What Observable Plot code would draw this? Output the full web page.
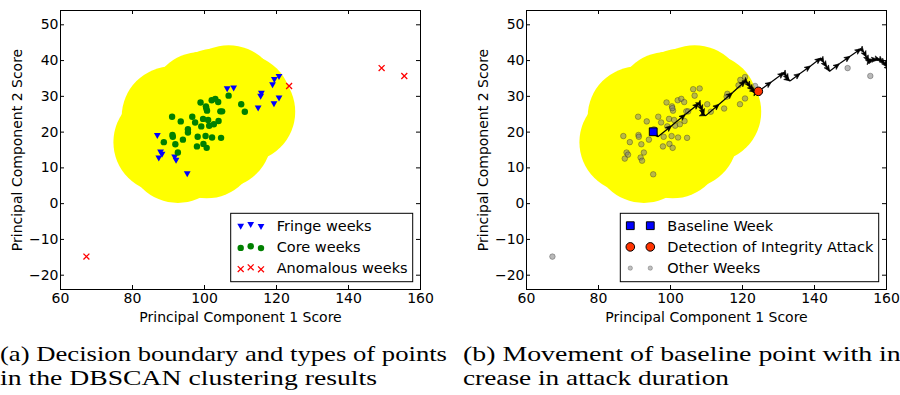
<!DOCTYPE html>
<html><head><meta charset="utf-8">
<script src="https://cdn.jsdelivr.net/npm/d3@7"></script>
<script src="https://cdn.jsdelivr.net/npm/@observablehq/plot@0.6"></script>
<style>
html,body{margin:0;padding:0;background:#fff;overflow:hidden;width:900px;height:395px}
#wrap{position:relative;width:900px;height:395px;overflow:hidden;background:#fff}
#left,#right{position:absolute;top:0}
#left{left:0} #right{left:450px}
#cap{position:absolute;left:0;top:330px}
</style></head><body>
<div id="wrap"><div id="left"></div><div id="right"></div><svg id="cap" width="900" height="65"></svg></div>
<script>
// ---- data ----
const xTicks = [60, 80, 100, 120, 140, 160];
const yTicks = [-20, -10, 0, 10, 20, 30, 40, 50];
const xLabel = "Principal Component 1 Score";
const yLabel = "Principal Component 2 Score";

const coreX = [91.0, 93.4, 96.6, 97.4, 98.9, 100.4, 100.7, 100.5, 102.0, 103.0, 103.8, 106.7, 110.2, 111.2, 104.4, 104.9, 99.6, 101.0, 99.1, 101.3, 102.6, 103.9, 95.4, 95.4, 91.1, 91.2, 88.7, 91.9, 94.0, 98.1, 100.3, 102.1, 104.6, 97.9, 99.7, 100.6, 92.6];
const coreY = [24.3, 23.0, 24.3, 22.7, 28.3, 27.2, 26.0, 26.7, 28.9, 29.3, 28.4, 30.2, 27.8, 25.7, 25.8, 25.8, 23.7, 23.4, 21.6, 21.8, 22.2, 23.1, 20.8, 19.9, 19.2, 18.7, 17.2, 16.6, 17.9, 18.7, 18.9, 18.5, 18.4, 16.0, 16.7, 15.6, 14.3];

const fringeX = [86.9, 87.8, 88.2, 87.3, 91.7, 92.1, 95.2, 106.3, 108.1, 114.9, 115.6, 115.8, 118.9, 119.4, 120.7, 119.3, 120.7];
const fringeY = [18.9, 14.3, 13.7, 12.6, 12.9, 12.0, 8.2, 32.0, 32.2, 26.6, 29.9, 30.7, 33.1, 34.6, 35.4, 27.8, 29.4];

const anomX = [123.5, 149.2, 155.5, 67.2];
const anomY = [32.9, 37.9, 35.7, -14.8];

const baselineX = [95.2];
const baselineY = [20.1];
const detectX = [124.4];
const detectY = [31.4];

const pathX = [95.2, 96.5, 100.3, 104.1, 107.9, 108.4, 108.9, 109.3, 109.8, 113.5, 117.2, 120.8, 121.5, 122.2, 123.0, 123.7, 124.4, 128.0, 131.5, 132.2, 132.8, 133.2, 136.0, 138.9, 141.8, 142.6, 143.4, 144.2, 146.9, 149.9, 152.9, 153.7, 154.4, 155.1, 155.9, 156.6, 157.5, 158.3, 159.0, 159.6, 160.2, 161.0];
const pathY = [20.1, 18.7, 21.8, 24.9, 28.0, 27.1, 25.9, 24.8, 24.6, 27.8, 31.0, 34.3, 33.6, 32.5, 31.6, 31.1, 31.4, 34.0, 36.6, 35.6, 34.6, 34.3, 36.4, 38.5, 40.7, 39.4, 38.2, 37.0, 39.1, 41.2, 43.3, 42.3, 41.0, 39.8, 40.1, 40.3, 40.4, 40.2, 39.6, 39.0, 38.2, 37.4];

const legendA = ["Fringe weeks", "Core weeks", "Anomalous weeks"];
const legendB = ["Baseline Week", "Detection of Integrity Attack", "Other Weeks"];
const captionA = ["(a) Decision boundary and types of points", "in the DBSCAN clustering results"];
const captionB = ["(b) Movement of baseline point with in-", "crease in attack duration"];

// ---- tables ----
const pts = (X, Y) => X.map((x, i) => ({x, y: Y[i]}));
const core = pts(coreX, coreY);
const fringe = pts(fringeX, fringeY);
const anom = pts(anomX, anomY);
const others = [...core, ...fringe, ...anom];
const baseline = pts(baselineX, baselineY);
const detect = pts(detectX, detectY);
const steps = pathX.slice(1).map((x, i) => {
  const dx = x - pathX[i], dy = pathY[i + 1] - pathY[i];
  return {x1: pathX[i], y1: pathY[i], x2: x, y2: pathY[i + 1], angle: Math.atan2(dx, dy) * 180 / Math.PI};
});

const xDomain = [60, 160];
const yDomain = [-24, 54];
const EPS = 14; // DBSCAN neighbourhood radius (data units)

const triDown = {draw(ctx, size) {
  const r = Math.sqrt(size / Math.PI), w = r * 0.85, h = r * 0.75;
  ctx.moveTo(-w, -h); ctx.lineTo(w, -h); ctx.lineTo(0, h); ctx.closePath();
}};
// filled arrowhead with its tip at the origin, pointing up (rotated per step)
const headUp = {draw(ctx, size) {
  const r = Math.sqrt(size / Math.PI), L = r * 1.6, w = r * 0.7;
  ctx.moveTo(0, 0); ctx.lineTo(w, L); ctx.lineTo(0, L * 0.75); ctx.lineTo(-w, L); ctx.closePath();
}};

function panel(ml, mr, marks) {
  const W = 450, H = 330, mt = 10, mb = 41;
  const fw = W - ml - mr, fh = H - mt - mb;
  const blobR = EPS * fw / (xDomain[1] - xDomain[0]);
  return Plot.plot({
    width: W, height: H, marginLeft: ml, marginRight: mr, marginTop: mt, marginBottom: mb,
    x: {domain: xDomain, label: null}, y: {domain: yDomain, label: null},
    style: {fontFamily: "'DejaVu Sans', sans-serif", fontSize: "14px", color: "black", background: "white", overflow: "visible"},
    marks: [
      Plot.dot(core, {x: "x", y: "y", r: blobR, fill: "#ffff00"}),
      ...marks,
      Plot.frame({stroke: "black", strokeWidth: 1}),
      Plot.tickX(xTicks, {x: d => d, insetTop: fh - 4, stroke: "black"}),
      Plot.tickX(xTicks, {x: d => d, insetBottom: fh - 4, stroke: "black"}),
      Plot.tickY(yTicks, {y: d => d, insetRight: fw - 4, stroke: "black"}),
      Plot.tickY(yTicks, {y: d => d, insetLeft: fw - 4, stroke: "black"}),
      Plot.axisX(xTicks, {tickSize: 0, tickPadding: 4, label: null}),
      Plot.axisY(yTicks, {tickSize: 0, tickPadding: 2, label: null}),
      Plot.text([xLabel], {frameAnchor: "bottom", dy: 28, text: d => d, lineAnchor: "middle", textAnchor: "middle"}),
      Plot.text([yLabel], {frameAnchor: "left", dx: -43, rotate: -90, text: d => d, lineAnchor: "middle", textAnchor: "middle"})
    ]
  });
}

const left = panel(60, 30, [
  Plot.dot(fringe, {x: "x", y: "y", symbol: triDown, r: 4, fill: "blue"}),
  Plot.dot(core, {x: "x", y: "y", r: 3.2, fill: "green"}),
  Plot.dot(anom, {x: "x", y: "y", symbol: "times", r: 2.8, stroke: "red", strokeWidth: 1.3})
]);
const right = panel(76, 14, [
  Plot.dot(others, {x: "x", y: "y", r: 2.8, fill: "#808080", fillOpacity: 0.55, stroke: "black", strokeOpacity: 0.35, strokeWidth: 0.8}),
  Plot.link(steps, {x1: "x1", y1: "y1", x2: "x2", y2: "y2", stroke: "black", strokeWidth: 1.2, clip: true}),
  Plot.dot(steps, {x: "x2", y: "y2", symbol: headUp, r: 3.7, rotate: "angle", fill: "black", stroke: "black", strokeWidth: 0.6, clip: true}),
  Plot.dot(baseline, {x: "x", y: "y", symbol: "square", r: 4.4, fill: "blue", stroke: "black", strokeWidth: 1}),
  Plot.dot(detect, {x: "x", y: "y", r: 4.3, fill: "#ff3300", stroke: "black", strokeWidth: 1})
]);
document.getElementById("left").appendChild(left);
document.getElementById("right").appendChild(right);

// ---- legends ----
function legend(svgEl, box, rows) {
  const g = d3.select(svgEl).append("g").attr("text-anchor", "start");
  g.append("rect").attr("x", box.x).attr("y", box.y).attr("width", box.w).attr("height", box.h)
    .attr("fill", "white").attr("stroke", "black").attr("stroke-width", 1);
  rows.forEach((row, i) => {
    const cy = box.y + 12.4 + i * 21.2;
    row.marks.forEach((m, j) => {
      const mx = box.mx[j], my = cy + (row.jitter ? row.jitter[j] : 0);
      g.append("path").attr("transform", `translate(${mx},${my})`)
        .attr("d", d3.symbol(row.sym, row.size)())
        .attr("fill", row.fill).attr("fill-opacity", row.fo ?? 1)
        .attr("stroke", row.stroke ?? "none").attr("stroke-width", row.sw ?? 1).attr("stroke-opacity", row.so ?? 1);
    });
    g.append("text").attr("x", box.tx).attr("y", cy).attr("dy", "0.35em").attr("text-anchor", "start")
      .style("font-size", "14.5px").attr("fill", "black").text(row.label);
  });
}
legend(left, {x: 230.7, y: 213.3, w: 182, h: 68.4, mx: [240.7, 250.7, 261], tx: 276.7}, [
  {label: legendA[0], marks: [0,1,2], sym: triDown, size: 16 * Math.PI, fill: "blue", jitter: [1, -0.8, 1.2]},
  {label: legendA[1], marks: [0,1,2], sym: d3.symbolCircle, size: 3.2 * 3.2 * Math.PI, fill: "green", jitter: [1, -0.6, 1.2]},
  {label: legendA[2], marks: [0,1,2], sym: d3.symbolX, size: 2.8 * 2.8 * Math.PI, fill: "none", stroke: "red", sw: 1.3, jitter: [1, -0.8, 1.2]}
]);
legend(right, {x: 170.3, y: 213.3, w: 258.4, h: 68.4, mx: [180.3, 200.3], tx: 217.3}, [
  {label: legendB[0], marks: [0,1], sym: d3.symbolSquare, size: 4.4 * 4.4 * Math.PI, fill: "blue", stroke: "black"},
  {label: legendB[1], marks: [0,1], sym: d3.symbolCircle, size: 4.3 * 4.3 * Math.PI, fill: "#ff3300", stroke: "black"},
  {label: legendB[2], marks: [0,1], sym: d3.symbolCircle, size: 2.2 * 2.2 * Math.PI, fill: "#808080", fo: 0.5, stroke: "black", so: 0.3, sw: 0.8}
]);

// ---- captions ----
const cap = d3.select("#cap").style("font-family", "'Liberation Serif', serif").style("font-size", "22px");
[
  {t: captionA[0], x: 0, y: 31, w: 447},
  {t: captionA[1], x: 0, y: 55, w: 377},
  {t: captionB[0], x: 463, y: 31, w: 447},
  {t: captionB[1], x: 463, y: 55, w: 266}
].forEach(c => cap.append("text").attr("x", c.x).attr("y", c.y).attr("textLength", c.w)
  .attr("lengthAdjust", "spacingAndGlyphs").attr("fill", "black").text(c.t));
</script>
</body></html>
